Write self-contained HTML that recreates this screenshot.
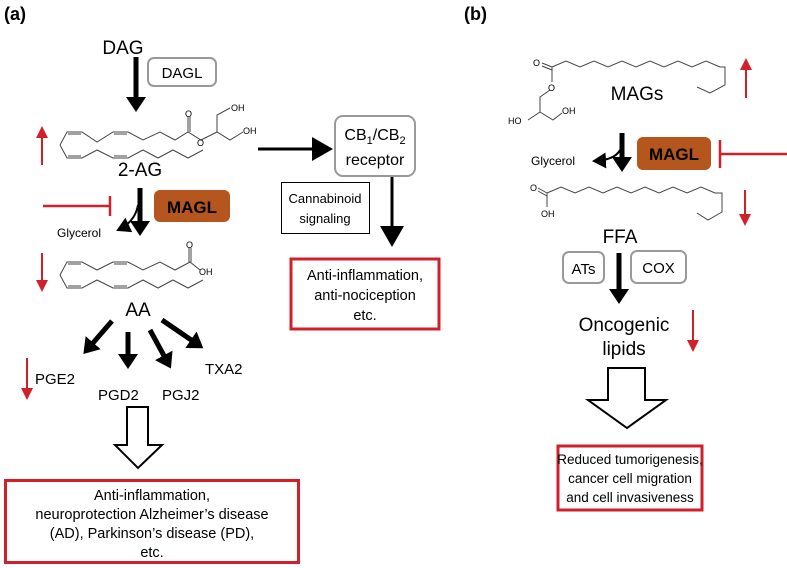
<!DOCTYPE html>
<html><head><meta charset="utf-8"><style>
body{margin:0;background:#fff}
svg{display:block;font-family:"Liberation Sans",Arial,sans-serif}
</style></head><body>
<svg width="787" height="568" viewBox="0 0 787 568" xmlns="http://www.w3.org/2000/svg">
<defs>
<marker id="bk" markerWidth="4" markerHeight="4" refX="2.2" refY="2" orient="auto" markerUnits="strokeWidth"><path d="M0,0 L3,2 L0,4 z" fill="#000"/></marker>
<marker id="bk2" markerWidth="8" markerHeight="8" refX="6" refY="4" orient="auto" markerUnits="strokeWidth"><path d="M0,0 L7,4 L0,8 z" fill="#000"/></marker>
<marker id="rd" markerWidth="8" markerHeight="8" refX="5" refY="4" orient="auto" markerUnits="strokeWidth"><path d="M0,1 L6,4 L0,7 z" fill="#d0202a"/></marker>
</defs>
<g font-weight="bold" font-size="18"><text x="4" y="20">(a)</text><text x="464" y="20">(b)</text></g>

<!-- (a) top -->
<text x="123" y="54" font-size="19" text-anchor="middle">DAG</text>
<rect x="148" y="58" width="68" height="28" rx="6" fill="none" stroke="#999" stroke-width="2"/>
<text x="182" y="78" font-size="15" text-anchor="middle">DAGL</text>
<line x1="136" y1="57" x2="136" y2="108" stroke="#000" stroke-width="5" marker-end="url(#bk)"/>

<g fill="none" stroke="#444" stroke-width="1">
<polyline points="60,145 67,132 82,132 97,142 113,132 128,132 143,140 160,132 175,140 188,132 201,140 217,132 230,140 243,132"/>
<polyline points="68,134 81,134" /><polyline points="114,134 127,134"/>
<polyline points="188,132 188,117"/><polyline points="190,132 190,117"/>
<polyline points="217,132 217,115 230,108"/>
<polyline points="60,145 67,158 82,158 97,150 113,158 128,158 143,150 158,158 173,150 188,158 203,150"/>
<polyline points="68,156 81,156"/><polyline points="114,156 127,156"/>
</g>
<g font-size="9" fill="#000"><text x="185" y="117">O</text><text x="197" y="146">O</text><text x="231" y="111">OH</text><text x="243" y="134">OH</text></g>
<text x="140" y="176" font-size="19" text-anchor="middle">2-AG</text>
<line x1="42" y1="165" x2="42" y2="128" stroke="#d0202a" stroke-width="2" marker-end="url(#rd)"/>

<line x1="258" y1="149" x2="330" y2="149" stroke="#000" stroke-width="3" marker-end="url(#bk2)"/>
<rect x="335" y="116" width="80" height="60" rx="8" fill="none" stroke="#999" stroke-width="2"/>
<text x="375" y="140" font-size="16" text-anchor="middle">CB<tspan font-size="11" dy="4">1</tspan><tspan dy="-4">/CB</tspan><tspan font-size="11" dy="4">2</tspan></text>
<text x="375" y="165" font-size="16" text-anchor="middle">receptor</text>

<line x1="43" y1="206" x2="110" y2="206" stroke="#d0202a" stroke-width="2.5"/>
<line x1="110" y1="196" x2="110" y2="216" stroke="#d0202a" stroke-width="2.5"/>
<line x1="140" y1="188" x2="140" y2="232" stroke="#000" stroke-width="5" marker-end="url(#bk)"/>
<path d="M138,205 Q135,222 118,230" fill="none" stroke="#000" stroke-width="2" marker-end="url(#bk2)"/>
<text x="57" y="237" font-size="12">Glycerol</text>
<rect x="154" y="190" width="76" height="32" rx="6" fill="#b5561f"/>
<text x="192" y="213" font-size="17" font-weight="bold" text-anchor="middle">MAGL</text>

<g fill="none" stroke="#444" stroke-width="1">
<polyline points="60,275 67,262 82,262 97,270 113,262 128,262 143,270 160,262 175,270 190,262 200,270"/>
<polyline points="68,264 81,264"/><polyline points="114,264 127,264"/>
<polyline points="189,262 189,248"/><polyline points="191,262 191,248"/>
<polyline points="60,275 67,288 82,288 97,280 113,288 128,288 143,280 158,288 173,280 188,288 203,280"/>
<polyline points="68,286 81,286"/><polyline points="114,286 127,286"/>
</g>
<g font-size="9"><text x="186" y="248">O</text><text x="199" y="275">OH</text></g>
<line x1="42" y1="253" x2="42" y2="290" stroke="#d0202a" stroke-width="2" marker-end="url(#rd)"/>
<text x="138" y="316" font-size="19" text-anchor="middle">AA</text>

<g stroke="#000" stroke-width="5">
<line x1="112" y1="321" x2="86" y2="351" marker-end="url(#bk)"/>
<line x1="128" y1="332" x2="128" y2="365" marker-end="url(#bk)"/>
<line x1="150" y1="330" x2="169" y2="365" marker-end="url(#bk)"/>
<line x1="162" y1="320" x2="200" y2="346" marker-end="url(#bk)"/>
</g>
<g font-size="15"><text x="35" y="384">PGE2</text><text x="98" y="400">PGD2</text><text x="162" y="400">PGJ2</text><text x="205" y="374">TXA2</text></g>
<line x1="27" y1="358" x2="27" y2="398" stroke="#d0202a" stroke-width="2" marker-end="url(#rd)"/>
<path d="M127,407 H148 V445 H162 L138,468 L115,445 H127 Z" fill="#fff" stroke="#000" stroke-width="2"/>
<rect x="5.5" y="480.5" width="293" height="82" fill="none" stroke="#d0202a" stroke-width="3"/>
<g font-size="14.5" text-anchor="middle"><text x="152" y="500">Anti-inflammation,</text><text x="152" y="519">neuroprotection Alzheimer’s disease</text><text x="152" y="538">(AD), Parkinson’s disease (PD),</text><text x="152" y="557">etc.</text></g>

<rect x="281.5" y="182.5" width="88" height="51" fill="none" stroke="#000" stroke-width="1"/>
<g font-size="13" text-anchor="middle"><text x="325" y="203">Cannabinoid</text><text x="325" y="223">signaling</text></g>
<line x1="392" y1="177" x2="392" y2="244" stroke="#000" stroke-width="3" marker-end="url(#bk2)"/>
<rect x="291" y="259" width="148" height="70" fill="none" stroke="#d0202a" stroke-width="3"/>
<g font-size="14.5" text-anchor="middle"><text x="365" y="280">Anti-inflammation,</text><text x="365" y="300">anti-nociception</text><text x="365" y="320">etc.</text></g>

<!-- (b) -->
<g fill="none" stroke="#444" stroke-width="1">
<polyline points="552,67 566,61 580,67 594,61 608,67 622,61 636,67 650,61 664,67 678,61 692,67 706,61 720,67 725,67 725,85 710,93 697,87"/>
<polyline points="552,67 542,63"/><polyline points="552,70 542,66"/>
<polyline points="552,67 552,82"/>
<polyline points="550,90 540,97 540,112 528,120"/>
<polyline points="540,112 553,120 562,113"/>
</g>
<g font-size="9"><text x="533" y="66">O</text><text x="548" y="91">O</text><text x="508" y="124">HO</text><text x="562" y="114">OH</text></g>
<text x="637" y="100" font-size="19" text-anchor="middle">MAGs</text>
<line x1="746" y1="98" x2="746" y2="60" stroke="#d0202a" stroke-width="2" marker-end="url(#rd)"/>

<line x1="622" y1="133" x2="622" y2="168" stroke="#000" stroke-width="5" marker-end="url(#bk)"/>
<path d="M620,150 Q615,160 594,161" fill="none" stroke="#000" stroke-width="2" marker-end="url(#bk2)"/>
<text x="531" y="165" font-size="12">Glycerol</text>
<rect x="637" y="137" width="74" height="33" rx="6" fill="#b5561f"/>
<text x="674" y="160" font-size="17" font-weight="bold" text-anchor="middle">MAGL</text>
<line x1="720" y1="140" x2="720" y2="168" stroke="#d0202a" stroke-width="2.5"/>
<line x1="720" y1="154" x2="787" y2="154" stroke="#d0202a" stroke-width="2.5"/>

<g fill="none" stroke="#444" stroke-width="1">
<polyline points="547,193 561,187 575,193 589,187 603,193 617,187 631,193 645,187 659,193 673,187 687,193 701,187 715,193 722,193 722,212 708,220 697,213"/>
<polyline points="547,193 538,188"/><polyline points="547,196 538,191"/>
<polyline points="547,193 547,207"/>
</g>
<g font-size="9"><text x="530" y="191">O</text><text x="541" y="217">OH</text></g>
<line x1="745" y1="190" x2="745" y2="224" stroke="#d0202a" stroke-width="2" marker-end="url(#rd)"/>
<text x="620" y="243" font-size="19" text-anchor="middle">FFA</text>
<rect x="563" y="252" width="41" height="31" rx="6" fill="none" stroke="#999" stroke-width="2"/>
<text x="583.5" y="274" font-size="15" text-anchor="middle">ATs</text>
<rect x="631" y="251" width="55" height="32" rx="6" fill="none" stroke="#999" stroke-width="2"/>
<text x="658.5" y="273" font-size="15" text-anchor="middle">COX</text>
<line x1="619" y1="253" x2="619" y2="300" stroke="#000" stroke-width="5" marker-end="url(#bk)"/>
<g font-size="19" text-anchor="middle"><text x="624" y="331">Oncogenic</text><text x="624" y="355">lipids</text></g>
<line x1="693" y1="310" x2="693" y2="350" stroke="#d0202a" stroke-width="2" marker-end="url(#rd)"/>
<path d="M608,368 H645 V400 H666 L627,428 L588,400 H608 Z" fill="#fff" stroke="#000" stroke-width="2"/>
<rect x="558" y="446" width="144" height="64" fill="none" stroke="#d0202a" stroke-width="3"/>
<g font-size="13.5" text-anchor="middle"><text x="630" y="464">Reduced tumorigenesis,</text><text x="630" y="483">cancer cell migration</text><text x="630" y="502">and cell invasiveness</text></g>
</svg>
</body></html>
